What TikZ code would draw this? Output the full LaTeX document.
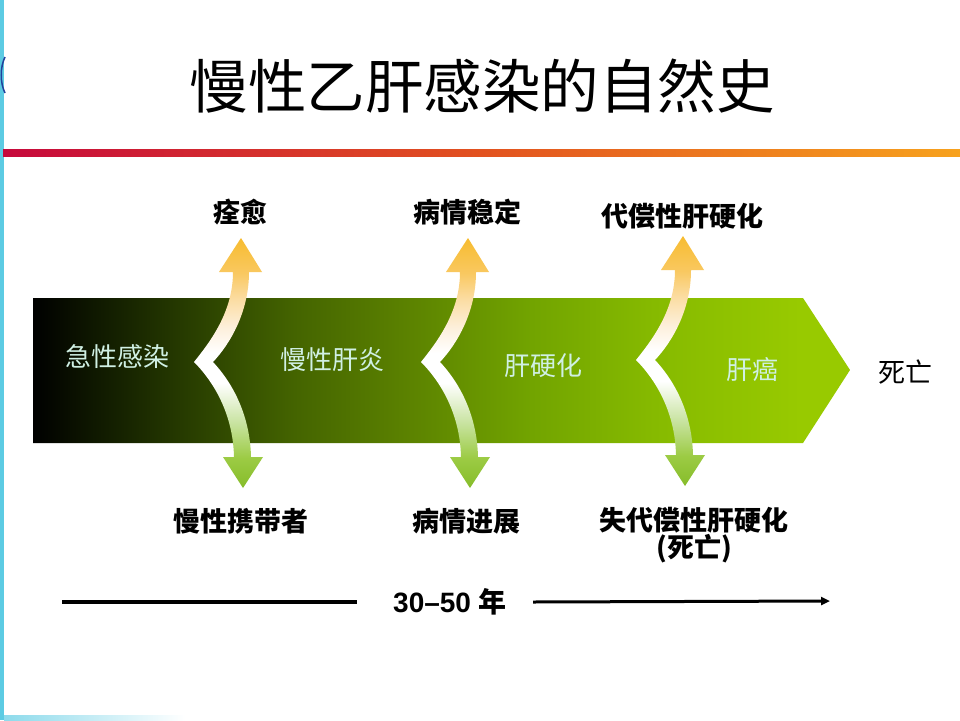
\documentclass[tikz,border=0pt]{standalone}
\usepackage{fontspec}
\setmainfont{Liberation Sans}
\newfontfamily\cjk{Noto Sans CJK SC}
\usetikzlibrary{arrows.meta}
\definecolor{sidebar}{HTML}{5CCBE3}
\definecolor{arcblue}{HTML}{22409A}
\definecolor{redA}{HTML}{C6093C}
\definecolor{redB}{HTML}{E2521F}
\definecolor{redC}{HTML}{F7A21E}
\definecolor{inkcol}{HTML}{D0F0E4}
\definecolor{gA}{HTML}{000000}
\definecolor{gB}{HTML}{142000}
\definecolor{gC}{HTML}{2A4000}
\definecolor{gD}{HTML}{446400}
\definecolor{gE}{HTML}{5A8000}
\definecolor{gF}{HTML}{72A400}
\definecolor{gG}{HTML}{86BA00}
\definecolor{gH}{HTML}{98CA00}
\definecolor{aG1}{HTML}{86BC2A}
\definecolor{aG2}{HTML}{9CCB44}
\definecolor{aG3}{HTML}{C8E3A0}
\definecolor{aY1}{HTML}{FDF0DC}
\definecolor{aY2}{HTML}{FBDCA0}
\definecolor{aY3}{HTML}{F9C860}
\definecolor{aY4}{HTML}{F7BC30}
\pgfdeclarehorizontalshading{bigsh}{100bp}{color(0bp)=(gA); color(25bp)=(gA); color(30bp)=(gB); color(35bp)=(gC); color(41bp)=(gD); color(47.5bp)=(gE); color(55.5bp)=(gF); color(63bp)=(gG); color(72bp)=(gH); color(100bp)=(gH)}
\pgfdeclareverticalshading{arrsh}{100bp}{color(0bp)=(aG1); color(25bp)=(aG1); color(31bp)=(aG2); color(38bp)=(aG3); color(46bp)=(white); color(52bp)=(white); color(57bp)=(aY1); color(63bp)=(aY2); color(68bp)=(aY3); color(75bp)=(aY4); color(100bp)=(aY4)}
\newcommand\hbvbranch[2]{%
  \begin{scope}[shift={(#1,#2)}]
    \shade[shading=arrsh]
      (-46,0) .. controls (-30,-20) and (-7,-50) .. (-7,-90)
      -- (-21,-90) -- (1,-124) -- (22,-90) -- (9,-90)
      .. controls (9,-50) and (-10,-18) .. (-27,0)
      .. controls (-10,18) and (10,50) .. (11,95)
      -- (23,95) -- (3,126) -- (-17,95) -- (-6,95)
      .. controls (-7,50) and (-28,18) .. (-46,0) -- cycle;
  \end{scope}}
\begin{document}
\begin{tikzpicture}[x=1pt,y=-1pt,
  toplab/.style={font=\cjk\bfseries\fontsize{27}{28}\selectfont, inner sep=0pt, text=black},
  botlab/.style={font=\cjk\bfseries\fontsize{27}{27}\selectfont, inner sep=0pt, text=black, align=center},
  inlab/.style={font=\cjk\fontsize{26}{28}\selectfont, inner sep=0pt, text=inkcol},
  timeline/.style={line width=3.5pt, black}]
\useasboundingbox (0,0) rectangle (960,720);
\fill[white] (0,0) rectangle (960,720);
% side decorations
\fill[sidebar] (0,0) rectangle (4,720);
\shade[left color=sidebar!70, right color=white] (4,715) rectangle (185,720);
\draw[arcblue, line width=1.5pt] (5,57) .. controls (0,67) and (0,83) .. (5,93);
% title
\node[font=\cjk\fontsize{58.5}{60}\selectfont, inner sep=0pt] (title) at (482,86) {慢性乙肝感染的自然史};
% rule
\shade[left color=redA, right color=redC, middle color=redB] (3,149.5) rectangle (960,156.5);
% big arrow
\shade[shading=bigsh] (33,298) -- (803,298) -- (850,370) -- (803,443) -- (33,443) -- cycle;
\node[inlab] (acute) at (117,357) {急性感染};
\node[inlab] (chep) at (332,360) {慢性肝炎};
\node[inlab] (cirr) at (543,366) {肝硬化};
\node[inlab] (hcc) at (752,370) {肝癌};
\node[font=\cjk\fontsize{27}{28}\selectfont, inner sep=0pt] (death) at (905,372) {死亡};
% branches
\hbvbranch{240}{362}
\hbvbranch{467}{362}
\hbvbranch{682}{360}
% labels
\node[toplab] (heal) at (240,212) {痊愈};
\node[toplab] (stable) at (467,212) {病情稳定};
\node[toplab] (comp) at (682,216) {代偿性肝硬化};
\node[toplab] (carrier) at (241,521) {慢性携带者};
\node[toplab] (prog) at (466,521) {病情进展};
\node[botlab, anchor=north] (decomp) at (694,507) {失代偿性肝硬化\\(死亡)};
% time line
\node[font=\bfseries\fontsize{28}{28}\selectfont, inner sep=0pt] (yrs) at (450,602) {30–50 {\cjk 年}};
\coordinate (tl) at (62,602);
\coordinate (tr) at (830,601);
\draw[timeline] (tl) -- ([xshift=-36pt]yrs.west);
\draw[line width=3pt, -{Triangle[length=9pt,width=8pt]}] ([xshift=26pt]yrs.east) -- (tr);
\end{tikzpicture}
\end{document}
